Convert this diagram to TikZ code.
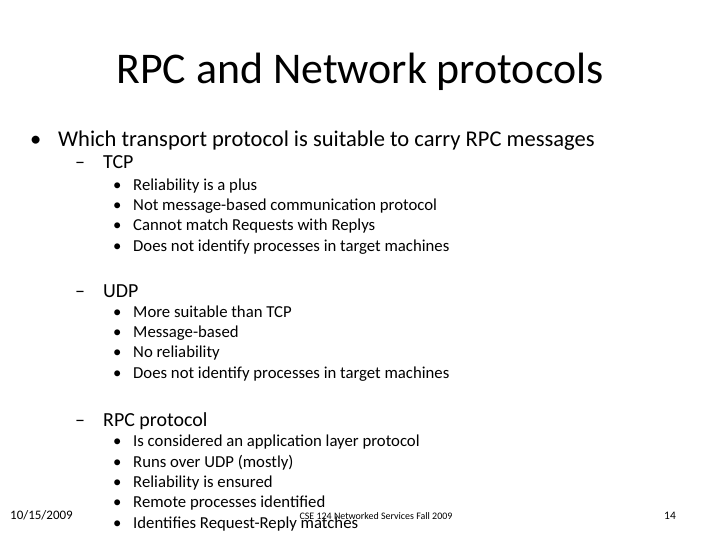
\documentclass[tikz,border=0pt]{standalone}
\usepackage{fontspec}
\setmainfont{Carlito}
\begin{document}
\begin{tikzpicture}[x=1bp,y=-1bp,
  t/.style={anchor=base west,inner sep=0pt},
  l1/.style={t,font=\fontsize{22.6}{26}\selectfont},
  l2/.style={t,font=\fontsize{20}{24}\selectfont},
  l3/.style={t,font=\fontsize{16.8}{20}\selectfont},
  ft/.style={inner sep=0pt,anchor=base,font=\fontsize{10}{12}\selectfont}]
\useasboundingbox (0,0) rectangle (720,540);
\node[inner sep=0pt,anchor=base,font=\fontsize{44}{52}\selectfont] (title) at (360,84) {RPC and Network protocols};
\node[l1] (b1) at (30,147) {•};
\node[l1] (q) at (58,147) {Which transport protocol is suitable to carry RPC messages};
\node[l2] (d1) at (75,169) {–};
\node[l2] (tcp) at (103,169) {TCP};
\foreach \y/\s [count=\i] in {191/Reliability is a plus,211/Not message-based communication protocol,231/Cannot match Requests with Replys,252/Does not identify processes in target machines}{
  \node[l3] (tb\i) at (113,\y) {•}; \node[l3] (tt\i) at (133,\y) {\s};}
\node[l2] (d2) at (75,297) {–};
\node[l2] (udp) at (103,297) {UDP};
\foreach \y/\s [count=\i] in {317/More suitable than TCP,337/Message-based,357/No reliability,378/Does not identify processes in target machines}{
  \node[l3] (ub\i) at (113,\y) {•}; \node[l3] (ut\i) at (133,\y) {\s};}
\node[l2] (d3) at (75,426) {–};
\node[l2] (rpc) at (103,426) {RPC protocol};
\foreach \y/\s [count=\i] in {446/Is considered an application layer protocol,467/Runs over UDP (mostly),487/Reliability is ensured,507/Remote processes identified,528/Identifies Request-Reply  matches}{
  \node[l3] (rb\i) at (113,\y) {•}; \node[l3] (rt\i) at (133,\y) {\s};}
\node[ft,anchor=base west,font=\fontsize{13}{15}\selectfont] (date) at (10,519) {10/15/2009};
\node[ft] (course) at (376,519) {CSE 124 Networked Services Fall 2009};
\node[ft,font=\fontsize{11.5}{13}\selectfont] (page) at (670,519) {14};
\end{tikzpicture}
\end{document}
